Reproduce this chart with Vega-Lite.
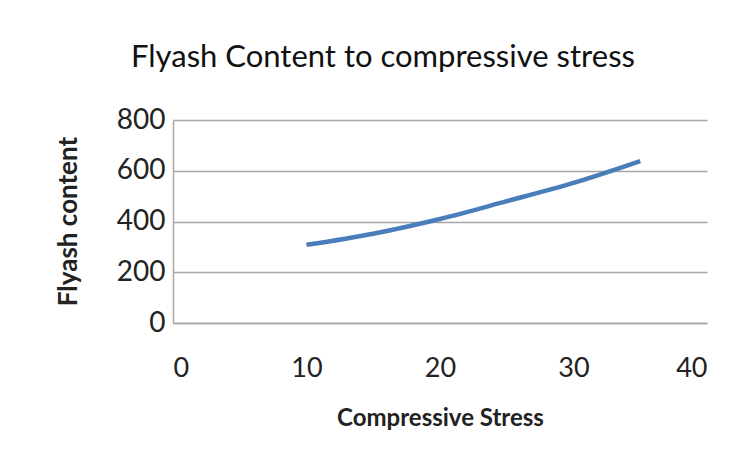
{
  "$schema": "https://vega.github.io/schema/vega-lite/v6.json",
  "width": 534,
  "height": 203,
  "autosize": {"type": "none"},
  "padding": {"left": 173, "top": 120, "right": 39, "bottom": 149},
  "background": "white",
  "config": {"view": {"stroke": null}, "font": "Lato"},
  "title": {
    "text": "Flyash Content  to compressive stress",
    "font": "Lato",
    "fontSize": 31,
    "fontWeight": "normal",
    "color": "#111111",
    "anchor": "middle",
    "dx": -57,
    "offset": 32
  },
  "data": {
    "values": [
      {"stress": 10, "flyash": 308},
      {"stress": 15, "flyash": 352},
      {"stress": 20, "flyash": 410},
      {"stress": 25, "flyash": 480},
      {"stress": 30, "flyash": 552},
      {"stress": 35, "flyash": 638}
    ]
  },
  "mark": {"type": "line", "interpolate": "monotone", "color": "#4a7ebb", "strokeWidth": 4.5},
  "encoding": {
    "x": {
      "field": "stress",
      "type": "quantitative",
      "scale": {"domain": [0, 40], "nice": false},
      "axis": {
        "title": "Compressive Stress",
        "values": [0, 10, 20, 30, 40],
        "grid": false,
        "ticks": false,
        "domain": true,
        "domainColor": "#a6a6a6",
        "domainWidth": 1.5,
        "labelFont": "Lato",
        "labelFontSize": 27,
        "labelColor": "#222222",
        "labelPadding": 32,
        "titleFont": "Lato",
        "titleFontSize": 24,
        "titleFontWeight": "bold",
        "titleColor": "#222222",
        "titleY": 95,
        "titleBaseline": "middle"
      }
    },
    "y": {
      "field": "flyash",
      "type": "quantitative",
      "scale": {"domain": [0, 800], "nice": false},
      "axis": {
        "title": "Flyash content",
        "values": [0, 200, 400, 600, 800],
        "grid": true,
        "gridColor": "#a6a6a6",
        "gridWidth": 1.5,
        "ticks": false,
        "domain": true,
        "domainColor": "#a6a6a6",
        "domainWidth": 1.5,
        "labelFont": "Lato",
        "labelFontSize": 28,
        "labelColor": "#222222",
        "labelPadding": 8,
        "titleFont": "Lato",
        "titleFontSize": 26,
        "titleFontWeight": "bold",
        "titleColor": "#222222",
        "titleX": -105,
        "titleY": 101,
        "titleAngle": -90,
        "titleBaseline": "middle"
      }
    }
  }
}
